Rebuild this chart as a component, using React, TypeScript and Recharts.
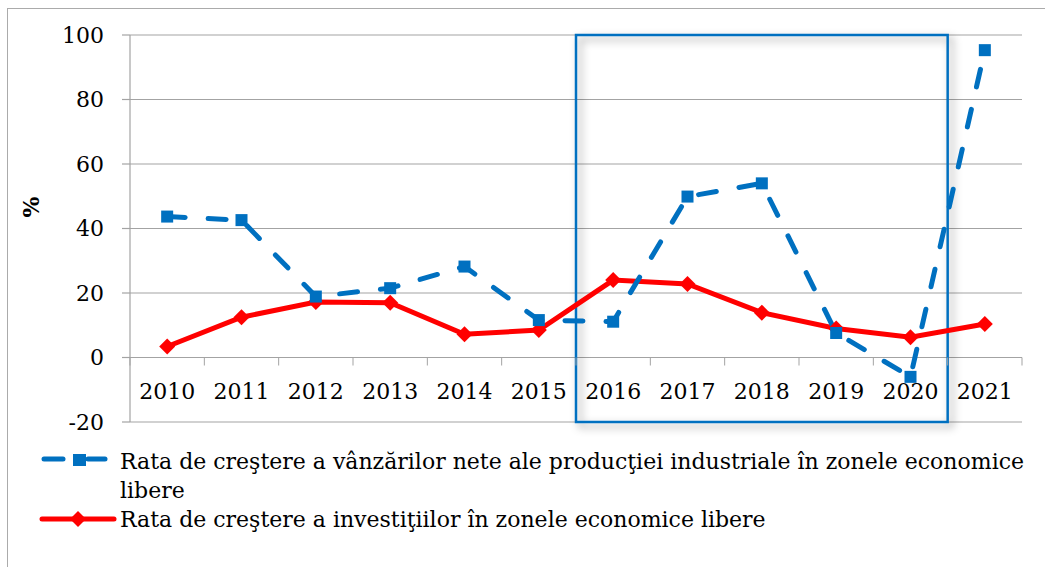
import { LineChart, Line, XAxis, YAxis, CartesianGrid, ReferenceArea } from 'recharts';

const years = ['2010', '2011', '2012', '2013', '2014', '2015', '2016', '2017', '2018', '2019', '2020', '2021'];
const salesGrowth = [43.7, 42.6, 18.9, 21.5, 28.2, 11.6, 11.1, 49.9, 54.0, 7.6, -6.0, 95.3];
const investGrowth = [3.4, 12.5, 17.2, 17.0, 7.2, 8.5, 24.0, 22.8, 13.9, 9.0, 6.3, 10.4];
const yTicks = [-20, 0, 20, 40, 60, 80, 100];
const salesName = 'Rata de creştere a vânzărilor nete ale producţiei industriale în zonele economice libere';
const investName = 'Rata de creştere a investiţiilor în zonele economice libere';

const data = years.map((year, i) => ({ year, sales: salesGrowth[i], invest: investGrowth[i] }));

const W = 1045;
const H = 567;
const TOP = 35;
const LEFT = 130;
const RIGHT = 23;
const XH = 145;
const Y_MIN = -20;
const Y_MAX = 100;
const PLOT_H = H - TOP - XH;
const BAND = (W - LEFT - RIGHT) / years.length;
const Y_ZERO = TOP + ((Y_MAX - 0) / (Y_MAX - Y_MIN)) * PLOT_H;

const BLUE = '#0070C0';
const RED = '#FF0000';
const GRID = '#a3a3a3';
const FONT = '"DejaVu Serif", serif';

const YearTick = (props: any) => {
  const { x, payload, index } = props;
  const last = index === years.length - 1;
  return (
    <g>
      <line x1={x - BAND / 2} y1={Y_ZERO} x2={x - BAND / 2} y2={Y_ZERO + 8} stroke={GRID} />
      {last && <line x1={x + BAND / 2} y1={Y_ZERO} x2={x + BAND / 2} y2={Y_ZERO + 8} stroke={GRID} />}
      <text x={x} y={Y_ZERO + 41} textAnchor="middle" fontSize={22} fontFamily={FONT} fill="#000">
        {payload.value}
      </text>
    </g>
  );
};

const SquareDot = (props: any) => {
  const { cx, cy, index } = props;
  if (cx == null || cy == null) return <g key={index} />;
  return <rect key={index} x={cx - 6} y={cy - 6} width={12} height={12} fill={BLUE} />;
};

const DiamondDot = (props: any) => {
  const { cx, cy, index } = props;
  if (cx == null || cy == null) return <g key={index} />;
  return <path key={index} d={`M${cx},${cy - 8}L${cx + 8},${cy}L${cx},${cy + 8}L${cx - 8},${cy}Z`} fill={RED} />;
};

const ShadowBox = (props: any) => {
  const { x, y, width, height } = props;
  return (
    <g>
      <defs>
        <filter id="boxShadow" x="-10%" y="-10%" width="125%" height="125%">
          <feDropShadow dx="4" dy="4" stdDeviation="4" floodColor="#000" floodOpacity="0.4" />
        </filter>
      </defs>
      <rect x={x} y={y} width={width} height={height} fill="none" stroke={BLUE} strokeWidth={2.5} filter="url(#boxShadow)" />
    </g>
  );
};

export default function App() {
  return (
    <div style={{ position: 'relative', width: W, height: H, fontFamily: FONT, overflow: 'hidden' }}>
      <style>{`html,body{margin:0;overflow:hidden;}`}</style>
      <div style={{ position: 'absolute', left: 7, top: 8, width: 1100, height: 600, border: '1px solid #ababab' }} />
      <div style={{ position: 'absolute', left: 0, top: 0 }}>
        <LineChart width={W} height={H} data={data} margin={{ top: TOP, right: RIGHT, bottom: 0, left: 0 }}>
          <CartesianGrid vertical={false} stroke={GRID} strokeWidth={1.2} />
          <XAxis dataKey="year" scale="band" height={XH} axisLine={false} tickLine={false} tick={<YearTick />} interval={0} />
          <YAxis
            domain={[Y_MIN, Y_MAX]}
            ticks={yTicks}
            width={LEFT}
            tickSize={8}
            tickMargin={18}
            axisLine={{ stroke: GRID, strokeWidth: 1.2 }}
            tickLine={{ stroke: GRID, strokeWidth: 1.2 }}
            tick={{ fontSize: 22, fontFamily: FONT, fill: '#000' }}
            label={{
              content: (p: any) => {
                const vx = (p.viewBox?.x ?? 0) + 31;
                const vy = 207;
                return (
                  <text x={vx} y={vy} transform={`rotate(-90 ${vx} ${vy})`} textAnchor="middle" dominantBaseline="central" fontSize={22} fontWeight="bold" fontFamily={FONT} fill="#000">
                    %
                  </text>
                );
              },
            }}
          />
          <ReferenceArea x1="2016" x2="2020" y1={Y_MIN} y2={Y_MAX} shape={<ShadowBox />} />
          <Line dataKey="invest" name={investName} stroke={RED} strokeWidth={5} dot={DiamondDot} activeDot={false} isAnimationActive={false} />
          <Line
            dataKey="sales"
            name={salesName}
            stroke={BLUE}
            strokeWidth={5}
            strokeDasharray="18 23"
            strokeLinecap="round"
            dot={SquareDot}
            activeDot={false}
            isAnimationActive={false}
          />
        </LineChart>
      </div>
      <div style={{ position: 'absolute', left: 0, top: 447, width: W, fontSize: 22, lineHeight: '29px', color: '#000' }}>
        <div style={{ position: 'relative', paddingLeft: 120, width: 915 }}>
          <svg width={80} height={16} style={{ position: 'absolute', left: 38, top: 7 }}>
            <line x1={6} y1={5} x2={25} y2={5} stroke={BLUE} strokeWidth={5} strokeLinecap="round" />
            <rect x={35} y={-1} width={13} height={13} fill={BLUE} />
            <line x1={50} y1={5} x2={67} y2={5} stroke={BLUE} strokeWidth={5} strokeLinecap="round" />
          </svg>
          {salesName}
        </div>
        <div style={{ position: 'relative', paddingLeft: 120, width: 915 }}>
          <svg width={80} height={18} style={{ position: 'absolute', left: 38, top: 5 }}>
            <line x1={4} y1={9} x2={76} y2={9} stroke={RED} strokeWidth={5} strokeLinecap="round" />
            <path d="M40,1L48,9L40,17L32,9Z" fill={RED} />
          </svg>
          {investName}
        </div>
      </div>
    </div>
  );
}
